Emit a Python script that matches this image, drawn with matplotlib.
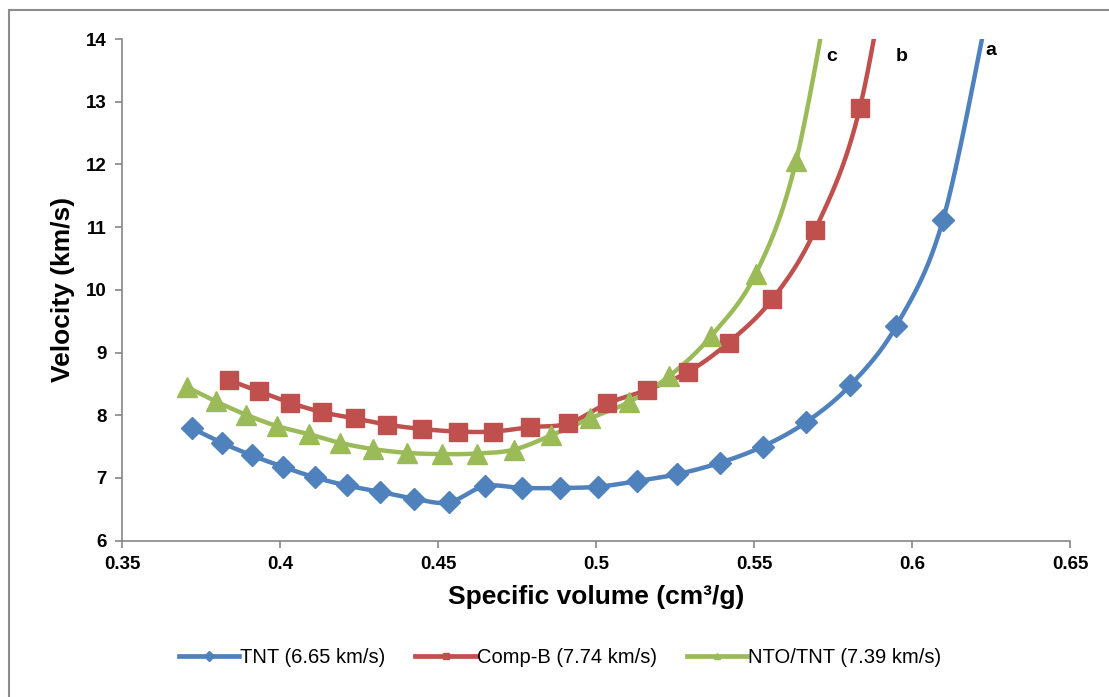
import numpy as np
import matplotlib.pyplot as plt
from matplotlib.patches import Rectangle
from matplotlib.lines import Line2D

# values (last point of each series lies above the plot top)
tnt_x = [0.3722, 0.3816, 0.3911, 0.4008, 0.4110, 0.4211, 0.4316, 0.4424, 0.4534, 0.4648,
         0.4765, 0.4885, 0.5006, 0.5131, 0.5257, 0.5391, 0.5527, 0.5665, 0.5805, 0.5951,
         0.6098, 0.6245]
tnt_v = [7.79, 7.56, 7.36, 7.18, 7.01, 6.88, 6.78, 6.67, 6.61, 6.87,
         6.84, 6.84, 6.86, 6.95, 7.06, 7.24, 7.50, 7.89, 8.48, 9.43,
         11.11, 14.6]

compb_x = [0.3838, 0.3935, 0.4032, 0.4133, 0.4236, 0.4340, 0.4451, 0.4563, 0.4675, 0.4792,
           0.4913, 0.5036, 0.5160, 0.5291, 0.5420, 0.5558, 0.5693, 0.5835, 0.5970]
compb_v = [8.56, 8.38, 8.20, 8.05, 7.95, 7.85, 7.78, 7.74, 7.74, 7.81,
           7.87, 8.19, 8.40, 8.69, 9.16, 9.85, 10.95, 12.90, 16.7]

nto_x = [0.3705, 0.3797, 0.3892, 0.3989, 0.4091, 0.4190, 0.4295, 0.4403, 0.4513, 0.4624,
         0.4739, 0.4859, 0.4981, 0.5104, 0.5231, 0.5364, 0.5505, 0.5633, 0.5770]
nto_v = [8.45, 8.22, 8.01, 7.83, 7.70, 7.56, 7.46, 7.40, 7.38, 7.39,
         7.45, 7.68, 7.95, 8.21, 8.62, 9.26, 10.25, 12.05, 15.7]

labels = ['TNT (6.65 km/s)', 'Comp-B (7.74 km/s)', 'NTO/TNT (7.39 km/s)']
colors = ['#4F81BD', '#C0504D', '#9BBB59']
markers = ['D', 's', '^']
msizes = [11, 12.5, 14]
curve_tags = ['a', 'b', 'c']
tag_pos = [(0.6233, 13.82), (0.5947, 13.72), (0.5728, 13.72)]


def smooth(x, y, n=30):
    # excel-like smoothed line (catmull-rom through the points)
    x = np.asarray(x, float)
    y = np.asarray(y, float)
    px = np.concatenate(([x[0]], x, [x[-1]]))
    py = np.concatenate(([y[0]], y, [y[-1]]))
    xs, ys = [], []
    t = np.linspace(0, 1, n)
    for i in range(1, len(px) - 2):
        p0, p1, p2, p3 = px[i-1:i+3]
        q0, q1, q2, q3 = py[i-1:i+3]
        c1x, c1y = p1 + (p2 - p0) / 6, q1 + (q2 - q0) / 6
        c2x, c2y = p2 - (p3 - p1) / 6, q2 - (q3 - q1) / 6
        b = [(1-t)**3, 3*(1-t)**2*t, 3*(1-t)*t**2, t**3]
        xs.append(b[0]*p1 + b[1]*c1x + b[2]*c2x + b[3]*p2)
        ys.append(b[0]*q1 + b[1]*c1y + b[2]*c2y + b[3]*q2)
    return np.concatenate(xs), np.concatenate(ys)


plt.rcParams['font.family'] = ['Liberation Sans', 'DejaVu Sans']

fig = plt.figure(figsize=(11.09, 6.97), dpi=100)
ax = fig.add_axes([0.110, 0.2243, 0.8548, 0.7197])

# outer chart frame
fig.patches.append(Rectangle((9 / 1109, -0.1), 1.2, (697 - 10) / 697 + 0.1,
                             transform=fig.transFigure, fill=False,
                             edgecolor='#8c8c8c', linewidth=1.5))

series = [(tnt_x, tnt_v), (compb_x, compb_v), (nto_x, nto_v)]
handles = []
for (xv, yv), lab, col, mk, ms in zip(series, labels, colors, markers, msizes):
    sx, sy = smooth(xv, yv)
    ax.plot(sx, sy, color=col, linewidth=3.2, solid_capstyle='butt', zorder=2)
    ax.plot(xv, yv, linestyle='none', marker=mk, markersize=ms, color=col,
            markeredgecolor=col, zorder=3)
    handles.append(Line2D([], [], color=col, linewidth=3.4, marker=mk,
                          markersize=5, label=lab))

for tg, (tx, ty) in zip(curve_tags, tag_pos):
    ax.text(tx, ty, tg, fontsize=14, fontweight='bold', ha='left', va='center')

ax.set_xlim(0.35, 0.65)
ax.set_ylim(6, 14)
ax.set_xticks([0.35, 0.4, 0.45, 0.5, 0.55, 0.6, 0.65])
ax.set_xticklabels(['0.35', '0.4', '0.45', '0.5', '0.55', '0.6', '0.65'])
ax.set_yticks(range(6, 15))

for s in ['top', 'right']:
    ax.spines[s].set_visible(False)
for s in ['left', 'bottom']:
    ax.spines[s].set_color('#868686')
    ax.spines[s].set_linewidth(1.2)
ax.tick_params(direction='out', length=5, width=1.2, color='#868686',
               labelsize=13.5, pad=6)
for lbl in ax.get_xticklabels() + ax.get_yticklabels():
    lbl.set_fontweight('bold')

ax.set_xlabel('Specific volume (cm\u00b3/g)', fontsize=19, fontweight='bold', labelpad=9)
ax.set_ylabel('Velocity (km/s)', fontsize=19, fontweight='bold', labelpad=8)

fig.legend(handles=handles, loc='center', bbox_to_anchor=(0.505, 0.057), ncol=3,
           frameon=False, handlelength=3.0, handletextpad=0.05, columnspacing=1.5,
           prop={'family': ['Liberation Sans Narrow', 'Liberation Sans'], 'size': 14.5})

fig.savefig('out.png', dpi=100)
